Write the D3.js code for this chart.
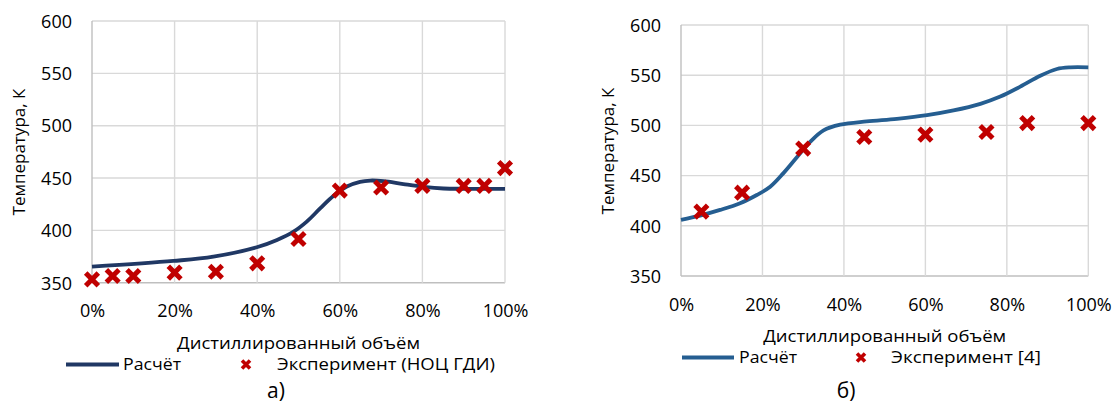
<!DOCTYPE html>
<html><head><meta charset="utf-8">
<script src="https://cdn.jsdelivr.net/npm/d3@7"></script>
<style>
html,body{margin:0;padding:0;background:#fff;}
svg{display:block;}
text{font-family:"Open Sans",sans-serif;fill:#000;}
</style></head>
<body>
<svg id="c" width="1116" height="410"></svg>
<script>
// ---------- data ----------
const xTicks = [0, 20, 40, 60, 80, 100];
const yTicks = [350, 400, 450, 500, 550, 600];

// chart a) calculation (smoothed curve)
const calcA_x = [0, 19.7, 29.4, 39.9, 44.8, 48.8, 52, 55.3, 58.5, 61.7, 64.9, 67.4, 70.6, 75.4, 80.3, 85.1, 90, 100];
const calcA_y = [365.3, 370.8, 374.9, 383.9, 390.9, 398.8, 408.4, 421.2, 433, 441.9, 446.4, 447.6, 447, 444.2, 441.6, 440, 439.7, 439.7];
// chart a) experiment (НОЦ ГДИ)
const expA_x = [0, 5, 10, 20, 30, 40, 50, 60, 70, 80, 90, 95, 100];
const expA_y = [353.2, 356.4, 356.4, 359.6, 360.5, 368.5, 391.8, 438, 440.9, 442.5, 442.5, 442.5, 459.5];

// chart б) calculation
const calcB_x = [0, 4.7, 9.6, 14.5, 18.6, 21.9, 25.1, 28.4, 31.7, 35, 39.1, 45.6, 53, 60.4, 66.9, 73.5, 78.4, 83.3, 88.2, 92.3, 95.6, 100];
const calcB_y = [406, 410.2, 415.8, 422.5, 430.7, 438.9, 452.2, 468, 483.5, 495, 500.7, 504, 506.6, 510.2, 514.9, 521.5, 528.7, 538.6, 549.5, 556.2, 557.8, 557.8];
// chart б) experiment [4]
const expB_x = [5, 15, 30, 45, 60, 75, 85, 100];
const expB_y = [414.1, 433, 476.9, 488.4, 490.8, 493.4, 502.3, 502.3];

const yTitle = "Температура, К";
const xTitle = "Дистиллированный объём";
const calcName = "Расчёт";
const expNameA = "Эксперимент (НОЦ ГДИ)";
const expNameB = "Эксперимент [4]";
const captions = ["а)", "б)"];

// ---------- drawing ----------
const svg = d3.select("#c");

function xMark(sel, x, y, h, w) {
  sel.append("path")
    .attr("d", `M${x-h},${y-h}L${x+h},${y+h}M${x-h},${y+h}L${x+h},${y-h}`)
    .attr("stroke", "#c00000").attr("stroke-width", w).attr("fill", "none");
}

function drawChart(cfg) {
  const x = d3.scaleLinear().domain([0, 100]).range([cfg.x0, cfg.x1]);
  const y = d3.scaleLinear().domain([350, 600]).range([cfg.y0, cfg.y1]);
  const g = svg.append("g");

  // grid
  g.selectAll(".hg").data(yTicks).join("line")
    .attr("x1", cfg.x0).attr("x2", cfg.x1)
    .attr("y1", d => y(d)).attr("y2", d => y(d))
    .attr("stroke", d => d === 350 ? "#bfbfbf" : "#d9d9d9").attr("stroke-width", 1.4);
  g.selectAll(".vg").data(xTicks).join("line")
    .attr("y1", cfg.y0).attr("y2", cfg.y1)
    .attr("x1", d => x(d)).attr("x2", d => x(d))
    .attr("stroke", d => d === 0 ? "#bfbfbf" : "#d9d9d9").attr("stroke-width", 1.4);

  // axes (labels only)
  const ax = g.append("g").attr("transform", `translate(0,${cfg.xLabY})`)
    .call(d3.axisBottom(x).tickValues(xTicks).tickFormat(d => d + "%").tickSize(0).tickPadding(0));
  ax.select(".domain").remove();
  ax.selectAll("text").attr("font-size", 18).attr("font-family", "Open Sans").attr("fill", "#000")
    .attr("dy", "0.35em").attr("y", 0);

  const ay = g.append("g").attr("transform", `translate(${cfg.yLabX},0)`)
    .call(d3.axisLeft(y).tickValues(yTicks).tickSize(0).tickPadding(0));
  ay.select(".domain").remove();
  ay.selectAll("text").attr("font-size", 18).attr("font-family", "Open Sans").attr("fill", "#000")
    .attr("x", 0).attr("dy", "0.35em");

  // titles
  g.append("text").attr("transform", `translate(${cfg.yTitleX},${cfg.yTitleY}) rotate(-90)`)
    .attr("text-anchor", "middle").attr("dy", "0.35em").attr("font-size", 17)
    .text(yTitle);
  g.append("text").attr("x", (cfg.x0 + cfg.x1) / 2).attr("y", cfg.xTitleY)
    .attr("text-anchor", "middle").attr("dy", "0.35em").attr("font-size", 16)
    .attr("textLength", 243).attr("lengthAdjust", "spacingAndGlyphs")
    .text(xTitle);

  // calc line
  const line = d3.line().x(d => x(d[0])).y(d => y(d[1])).curve(d3.curveCatmullRom.alpha(0.5));
  g.append("path").datum(d3.zip(cfg.cx, cfg.cy)).attr("d", line)
    .attr("fill", "none").attr("stroke", cfg.color).attr("stroke-width", 3.8);

  // experiment markers
  d3.zip(cfg.ex, cfg.ey).forEach(d => xMark(g, x(d[0]), y(d[1]), 6.3, 5));

  // legend
  const ly = cfg.legY;
  g.append("line").attr("x1", cfg.legLine[0]).attr("x2", cfg.legLine[1]).attr("y1", ly).attr("y2", ly)
    .attr("stroke", cfg.color).attr("stroke-width", 4);
  g.append("text").attr("x", cfg.legCalcX).attr("y", ly).attr("dy", "0.35em").attr("font-size", 16)
    .attr("textLength", cfg.legCalcW).attr("lengthAdjust", "spacingAndGlyphs").text(calcName);
  xMark(g, cfg.legMarkX, ly, 4, 3.6);
  g.append("text").attr("x", cfg.legExpX).attr("y", ly).attr("dy", "0.35em").attr("font-size", 16)
    .attr("textLength", cfg.legExpW).attr("lengthAdjust", "spacingAndGlyphs").text(cfg.expName);

  // caption
  g.append("text").attr("x", cfg.capX).attr("y", 398).attr("text-anchor", "middle")
    .attr("font-family", "Liberation Serif").attr("font-size", 21).text(cfg.caption);
}

drawChart({
  x0: 92, x1: 505, y0: 282.7, y1: 21,
  xLabY: 310.5, yLabX: 72, yTitleX: 19, yTitleY: 152, xTitleY: 343.5,
  cx: calcA_x, cy: calcA_y, ex: expA_x, ey: expA_y, color: "#203864",
  legY: 364.5, legLine: [66, 119], legCalcX: 123, legCalcW: 58, legMarkX: 246,
  legExpX: 277, legExpW: 218, expName: expNameA, capX: 276, caption: captions[0]
});
drawChart({
  x0: 681, x1: 1088.3, y0: 276, y1: 25,
  xLabY: 305, yLabX: 661, yTitleX: 608, yTitleY: 151, xTitleY: 336.5,
  cx: calcB_x, cy: calcB_y, ex: expB_x, ey: expB_y, color: "#255e91",
  legY: 357.5, legLine: [682, 734], legCalcX: 739, legCalcW: 58, legMarkX: 861,
  legExpX: 891, legExpW: 150, expName: expNameB, capX: 846, caption: captions[1]
});
</script>
</body></html>
